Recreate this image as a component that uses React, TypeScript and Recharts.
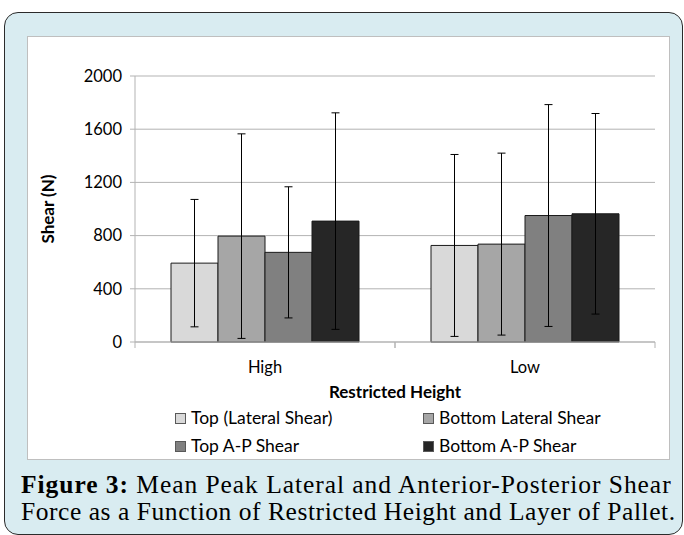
import { Bar, BarChart, CartesianGrid, ErrorBar, XAxis, YAxis } from "recharts";

const categories = ["High", "Low"];
const seriesNames = ["Top (Lateral Shear)", "Bottom Lateral Shear", "Top A-P Shear", "Bottom A-P Shear"];
const seriesColors = ["#d9d9d9", "#a6a6a6", "#808080", "#262626"];

// mean peak shear (N) and its error (sd), one value per restricted height
const topLateral = [593, 726];
const topLateralErr = [479, 684];
const bottomLateral = [796, 736];
const bottomLateralErr = [769, 684];
const topAP = [674, 951];
const topAPErr = [493, 834];
const bottomAP = [909, 964];
const bottomAPErr = [814, 754];

const yTicks = [0, 400, 800, 1200, 1600, 2000];

const keys = ["topLateral", "bottomLateral", "topAP", "bottomAP"];

const data = categories.map((c, i) => ({
  cat: c,
  topLateral: topLateral[i],
  topLateralErr: topLateralErr[i],
  bottomLateral: bottomLateral[i],
  bottomLateralErr: bottomLateralErr[i],
  topAP: topAP[i],
  topAPErr: topAPErr[i],
  bottomAP: bottomAP[i],
  bottomAPErr: bottomAPErr[i],
}));

const GRID = "#b3b3b3";
const FONT = "Lato, 'Open Sans', sans-serif";
const CHART_W = 643;
const CHART_H = 424;
const Y_W = 108;
const M_RIGHT = 15;
const HALF_BAND = (CHART_W - Y_W - M_RIGHT) / categories.length / 2;

function CategoryTick({ x, y, payload }: any) {
  return (
    <g>
      <line x1={x - HALF_BAND} y1={y} x2={x - HALF_BAND} y2={y + 6} stroke={GRID} />
      <line x1={x + HALF_BAND} y1={y} x2={x + HALF_BAND} y2={y + 6} stroke={GRID} />
      <text x={x} y={y + 25} textAnchor="middle" dominantBaseline="central" fontSize={16.5} fill="#000" fontFamily={FONT}>
        {payload.value}
      </text>
    </g>
  );
}

export default function App() {
  return (
    <div style={{ position: "relative", width: 684, height: 535, overflow: "hidden", background: "#fff" }}>
      <style>{`body{margin:0}`}</style>
      <div
        style={{
          position: "absolute", left: 4, top: 12, width: 677, height: 521,
          border: "1.5px solid #2b2b2b", borderRadius: 14, background: "#d9ecf1",
        }}
      />
      <div
        style={{
          position: "absolute", left: 27, top: 36, width: CHART_W - 2, height: CHART_H - 2,
          background: "#fff", border: "1px solid #bfbfbf",
        }}
      />
      <div style={{ position: "absolute", left: 27, top: 36 }}>
        <BarChart
          width={CHART_W}
          height={CHART_H}
          data={data}
          margin={{ top: 40, right: M_RIGHT, bottom: 58, left: 0 }}
          barGap={0}
          barCategoryGap={36}
        >
          <CartesianGrid vertical={false} stroke={GRID} strokeWidth={1} />
          <XAxis
            dataKey="cat"
            height={60}
            tickLine={false}
            tickSize={0}
            tickMargin={0}
            axisLine={{ stroke: GRID }}
            tick={<CategoryTick />}
            interval={0}
            label={{
              value: "Restricted Height", position: "insideBottom", offset: 4,
              style: { fontFamily: FONT, fontWeight: 700, fontSize: 17, fill: "#000" },
            }}
          />
          <YAxis
            width={Y_W}
            domain={[0, 2000]}
            ticks={yTicks}
            tickSize={5}
            tickMargin={8}
            tickLine={{ stroke: GRID }}
            axisLine={{ stroke: GRID }}
            tick={{ fontFamily: FONT, fontSize: 16.5, fill: "#000" }}
            label={{
              value: "Shear (N)", angle: -90, position: "insideLeft", offset: 21,
              style: { fontFamily: FONT, fontWeight: 700, fontSize: 17, fill: "#000", textAnchor: "middle" },
            }}
          />
          {keys.map((k, i) => (
            <Bar key={k} dataKey={k} name={seriesNames[i]} fill={seriesColors[i]} stroke="#1a1a1a" strokeWidth={1} isAnimationActive={false}>
              <ErrorBar dataKey={k + "Err"} width={4} stroke="#000" strokeWidth={1} direction="y" />
            </Bar>
          ))}
        </BarChart>
      </div>
      <div
        style={{
          position: "absolute", left: 175, top: 408, width: 500,
          display: "grid", gridTemplateColumns: "248px 248px", rowGap: 8,
          fontFamily: FONT, fontSize: 17.5, color: "#000", lineHeight: "20px",
        }}
      >
        {seriesNames.map((n, i) => (
          <div key={n} style={{ display: "flex", alignItems: "center", whiteSpace: "nowrap" }}>
            <span
              style={{
                display: "inline-block", width: 9, height: 9, marginRight: 5,
                background: seriesColors[i], border: "1px solid #595959",
              }}
            />
            {n}
          </div>
        ))}
      </div>
      <div
        style={{
          position: "absolute", left: 21, top: 471, whiteSpace: "nowrap",
          fontFamily: "'Liberation Serif', 'DejaVu Serif', serif", fontSize: 25.5, lineHeight: "27px", color: "#000",
        }}
      >
        <div style={{ letterSpacing: 0.95 }}><b>Figure 3:</b> Mean Peak Lateral and Anterior-Posterior Shear</div>
        <div style={{ letterSpacing: 0.55 }}>Force as a Function of Restricted Height and Layer of Pallet.</div>
      </div>
    </div>
  );
}
